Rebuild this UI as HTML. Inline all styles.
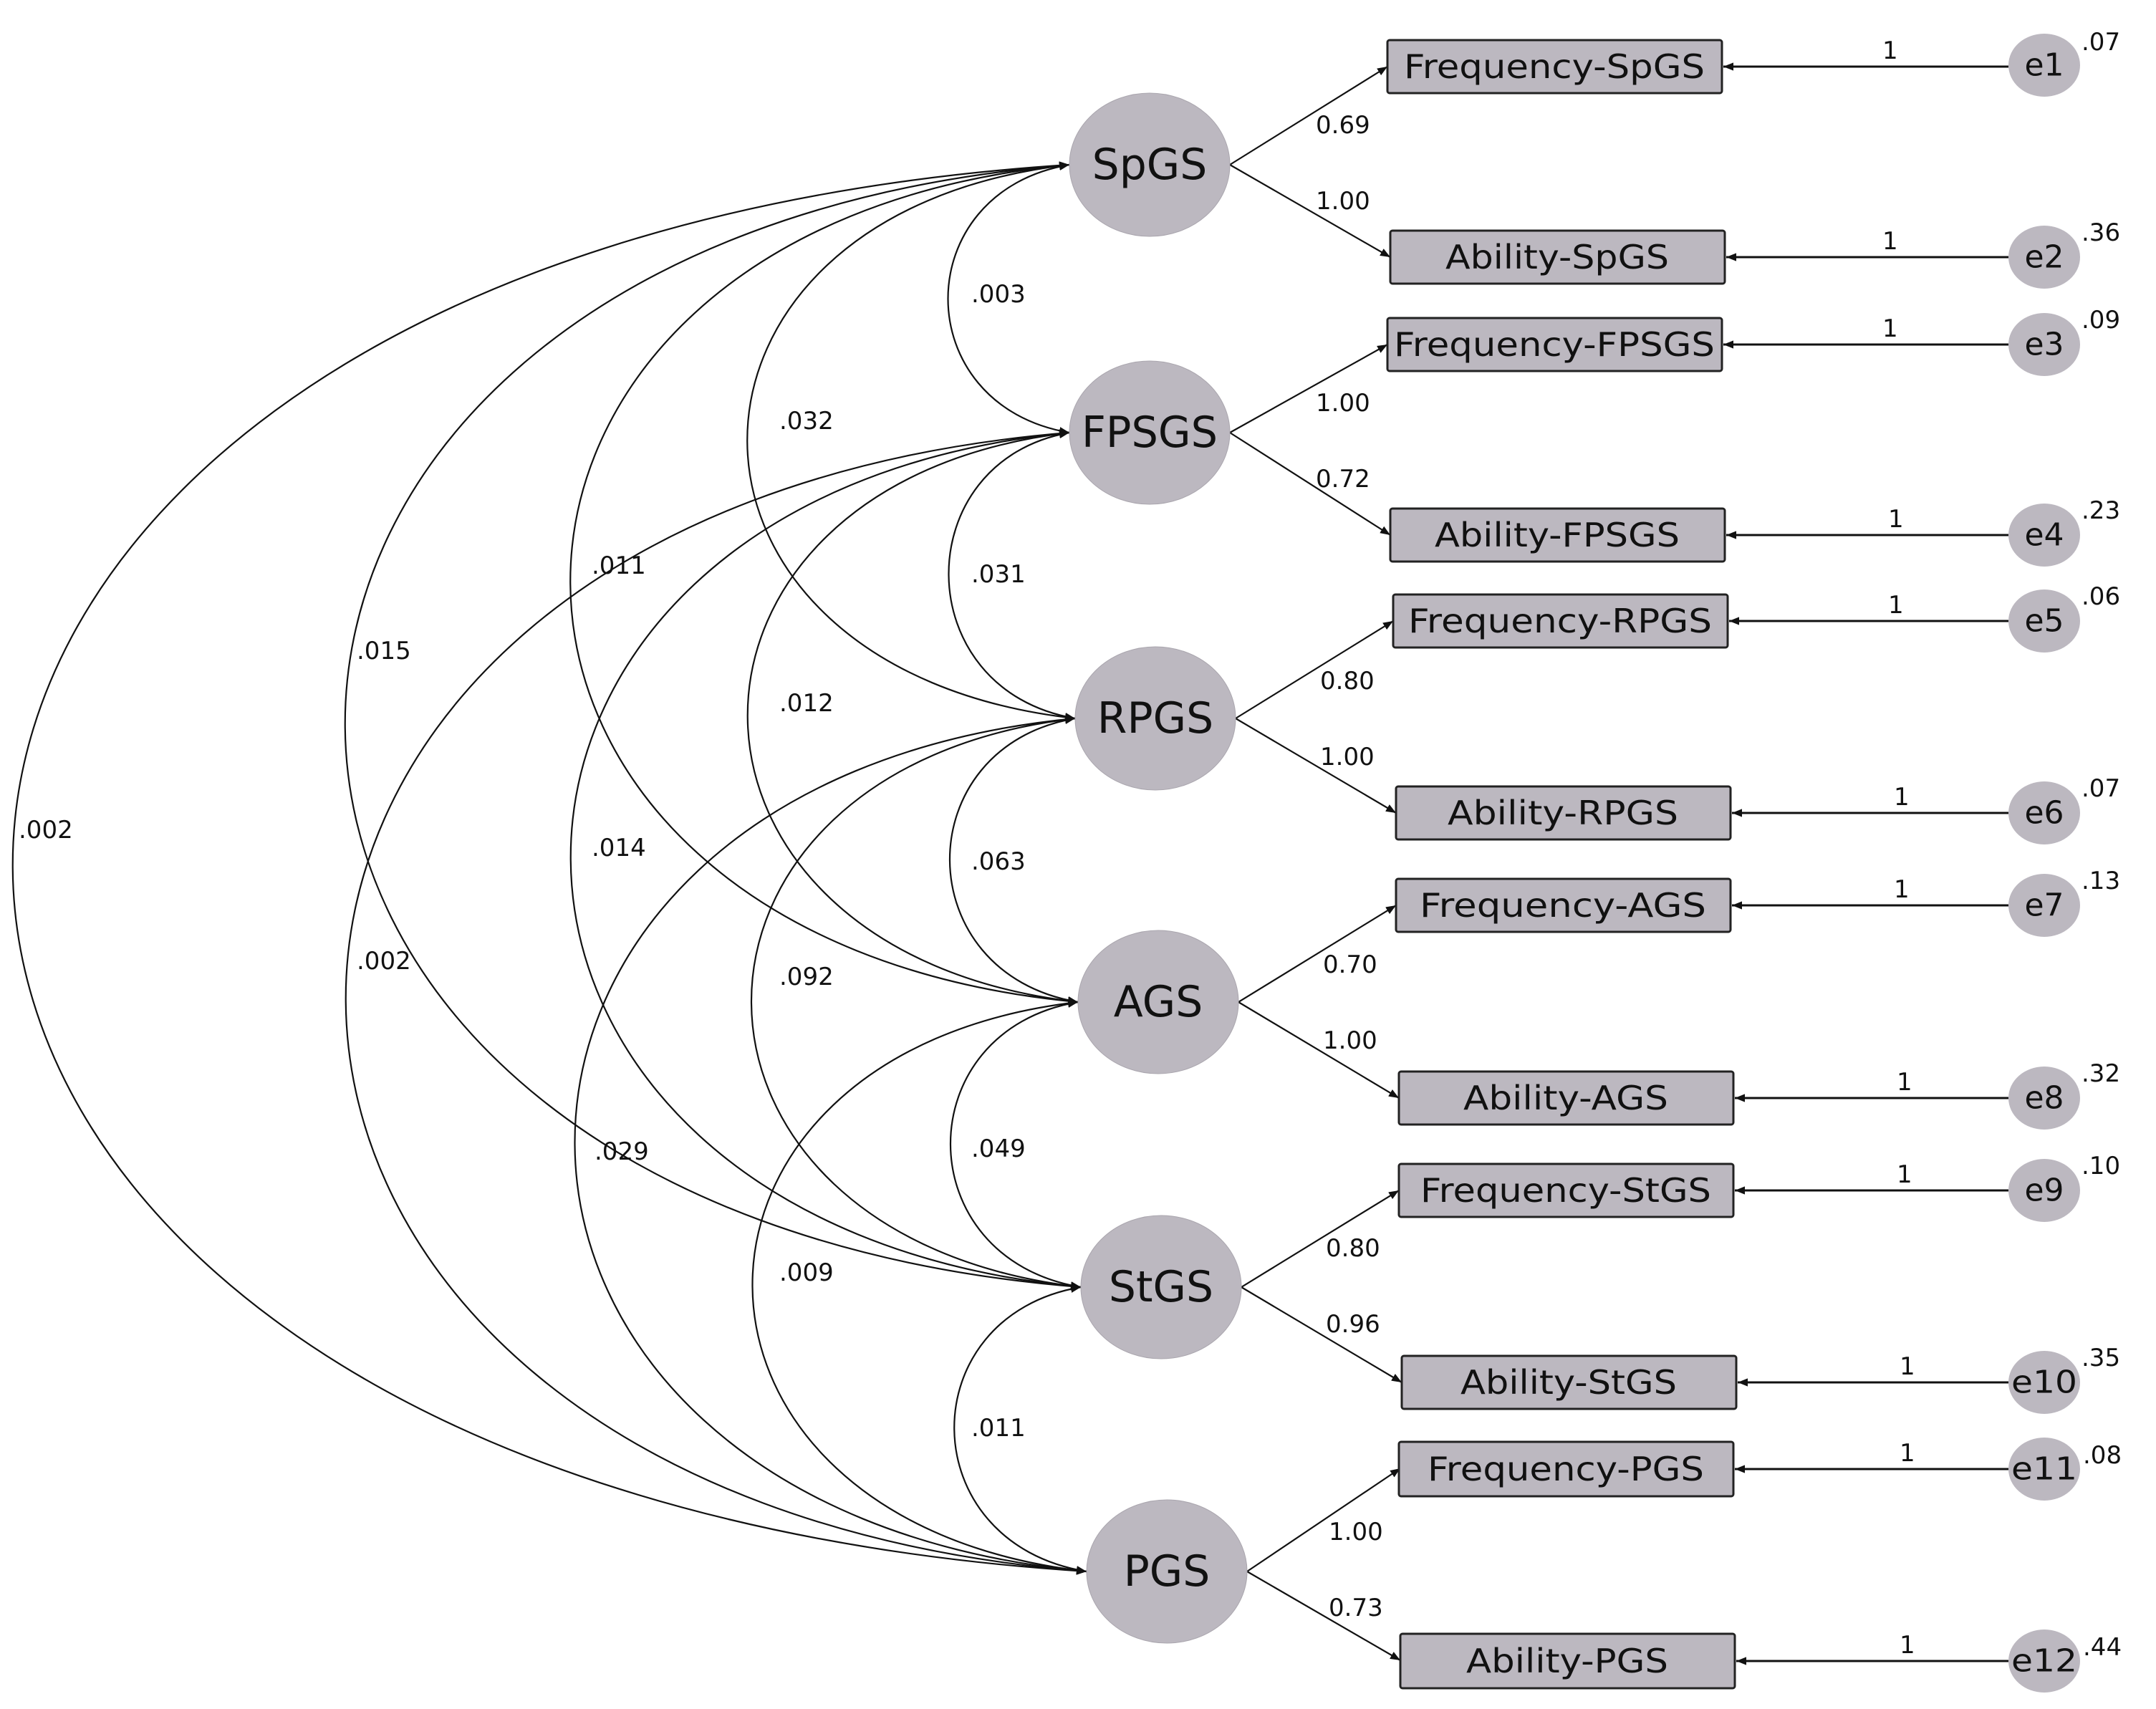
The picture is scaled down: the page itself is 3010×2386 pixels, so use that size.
<!DOCTYPE html>
<html><head><meta charset="utf-8"><style>
html,body{margin:0;padding:0;background:#fff;}
svg{display:block;}
text{font-family:"DejaVu Sans","Liberation Sans",sans-serif;fill:#111;}
.n{font-size:34px;}
.lat{font-size:60px;text-anchor:middle;dominant-baseline:central;}
.bx{font-size:46px;text-anchor:middle;dominant-baseline:central;}
.e{font-size:44px;text-anchor:middle;dominant-baseline:central;}
</style></head><body>
<svg width="3010" height="2386" viewBox="0 0 3010 2386" xmlns="http://www.w3.org/2000/svg">
<defs>
<marker id="a" viewBox="0 0 10 10" refX="10" refY="5" markerWidth="14" markerHeight="14" markerUnits="userSpaceOnUse" orient="auto-start-reverse"><path d="M0,1 L10,5 L0,9 z" fill="#111"/></marker>
</defs>
<g transform="translate(-8,-2)">
<g fill="none" stroke="#111" stroke-width="2.2" marker-start="url(#a)" marker-end="url(#a)">
<path d="M1501,232 C1275,270 1275,568 1501,606"/>
<path d="M1501,606 C1275,646 1275,965 1509,1005"/>
<path d="M1509,1005 C1275,1045 1275,1361 1513,1401"/>
<path d="M1513,1401 C1275,1441 1275,1759 1517,1799"/>
<path d="M1517,1799 C1280,1839 1280,2156 1525,2196"/>
<path d="M1501,232 C900,300 900,937 1509,1005"/>
<path d="M1501,606 C900,676 900,1331 1513,1401"/>
<path d="M1509,1005 C905,1075 905,1729 1517,1799"/>
<path d="M1513,1401 C905,1471 905,2126 1525,2196"/>
<path d="M1501,232 C570,320 570,1313 1513,1401"/>
<path d="M1501,606 C570,696 570,1709 1517,1799"/>
<path d="M1509,1005 C575,1095 575,2106 1525,2196"/>
<path d="M1501,232 C150,340 150,1691 1517,1799"/>
<path d="M1501,606 C150,716 150,2086 1525,2196"/>
<path d="M1501,232 C-470,360 -470,2068 1525,2196"/>
</g>
<g class="n">
<text x="1364" y="424">.003</text>
<text x="1364" y="815">.031</text>
<text x="1364" y="1216">.063</text>
<text x="1364" y="1617">.049</text>
<text x="1364" y="2007">.011</text>
<text x="1096" y="601">.032</text>
<text x="1096" y="995">.012</text>
<text x="1096" y="1377">.092</text>
<text x="1096" y="1790">.009</text>
<text x="834" y="803">.011</text>
<text x="834" y="1197">.014</text>
<text x="838" y="1621">.029</text>
<text x="506" y="922">.015</text>
<text x="506" y="1355">.002</text>
<text x="34" y="1172">.002</text>
</g>
<g fill="none" stroke="#111" stroke-width="2.2" marker-end="url(#a)">
<path d="M1725,232 L1945,95"/><path d="M1725,232 L1949,361"/>
<path d="M1725,606 L1945,483"/><path d="M1725,606 L1949,749"/>
<path d="M1733,1005 L1953,869"/><path d="M1733,1005 L1957,1137"/>
<path d="M1737,1401 L1957,1266"/><path d="M1737,1401 L1961,1535"/>
<path d="M1741,1799 L1961,1664"/><path d="M1741,1799 L1965,1932"/>
<path d="M1749,2196 L1963,2052"/><path d="M1749,2196 L1963,2320"/>
</g>
<g class="n">
<text x="1845" y="188">0.69</text><text x="1845" y="294">1.00</text>
<text x="1845" y="576">1.00</text><text x="1845" y="682">0.72</text>
<text x="1851" y="964">0.80</text><text x="1851" y="1070">1.00</text>
<text x="1855" y="1360">0.70</text><text x="1855" y="1466">1.00</text>
<text x="1859" y="1756">0.80</text><text x="1859" y="1862">0.96</text>
<text x="1863" y="2152">1.00</text><text x="1863" y="2258">0.73</text>
</g>
<g fill="#bcb8c0" stroke="#aaa6ae" stroke-width="1">
<ellipse cx="1613" cy="232" rx="112" ry="100"/>
<ellipse cx="1613" cy="606" rx="112" ry="100"/>
<ellipse cx="1621" cy="1005" rx="112" ry="100"/>
<ellipse cx="1625" cy="1401" rx="112" ry="100"/>
<ellipse cx="1629" cy="1799" rx="112" ry="100"/>
<ellipse cx="1637" cy="2196" rx="112" ry="100"/>
</g>
<text class="lat" x="1613" y="232">SpGS</text>
<text class="lat" x="1613" y="606" textLength="190" lengthAdjust="spacingAndGlyphs">FPSGS</text>
<text class="lat" x="1621" y="1005">RPGS</text>
<text class="lat" x="1625" y="1401">AGS</text>
<text class="lat" x="1629" y="1799">StGS</text>
<text class="lat" x="1637" y="2196">PGS</text>
<g fill="#bcb8c0" stroke="#222" stroke-width="3">
<rect x="1945" y="58" width="467" height="74" rx="3"/>
<rect x="1949" y="324" width="467" height="74" rx="3"/>
<rect x="1945" y="446" width="467" height="74" rx="3"/>
<rect x="1949" y="712" width="467" height="74" rx="3"/>
<rect x="1953" y="832" width="467" height="74" rx="3"/>
<rect x="1957" y="1100" width="467" height="74" rx="3"/>
<rect x="1957" y="1229" width="467" height="74" rx="3"/>
<rect x="1961" y="1498" width="467" height="74" rx="3"/>
<rect x="1961" y="1627" width="467" height="74" rx="3"/>
<rect x="1965" y="1895" width="467" height="74" rx="3"/>
<rect x="1961" y="2015" width="467" height="76" rx="3"/>
<rect x="1963" y="2283" width="467" height="76" rx="3"/>
</g>
<g class="bx">
<text x="2178" y="95" textLength="420" lengthAdjust="spacingAndGlyphs">Frequency-SpGS</text>
<text x="2182" y="361" textLength="312" lengthAdjust="spacingAndGlyphs">Ability-SpGS</text>
<text x="2178" y="483" textLength="448" lengthAdjust="spacingAndGlyphs">Frequency-FPSGS</text>
<text x="2182" y="749" textLength="342" lengthAdjust="spacingAndGlyphs">Ability-FPSGS</text>
<text x="2186" y="869" textLength="424" lengthAdjust="spacingAndGlyphs">Frequency-RPGS</text>
<text x="2190" y="1137" textLength="322" lengthAdjust="spacingAndGlyphs">Ability-RPGS</text>
<text x="2190" y="1266" textLength="400" lengthAdjust="spacingAndGlyphs">Frequency-AGS</text>
<text x="2194" y="1535" textLength="286" lengthAdjust="spacingAndGlyphs">Ability-AGS</text>
<text x="2194" y="1664" textLength="406" lengthAdjust="spacingAndGlyphs">Frequency-StGS</text>
<text x="2198" y="1932" textLength="302" lengthAdjust="spacingAndGlyphs">Ability-StGS</text>
<text x="2194" y="2053" textLength="386" lengthAdjust="spacingAndGlyphs">Frequency-PGS</text>
<text x="2196" y="2321" textLength="282" lengthAdjust="spacingAndGlyphs">Ability-PGS</text>
</g>
<g fill="none" stroke="#111" stroke-width="3" marker-end="url(#a)">
<path d="M2812,95 L2414,95"/><path d="M2812,361 L2418,361"/>
<path d="M2812,483 L2414,483"/><path d="M2812,749 L2418,749"/>
<path d="M2812,869 L2422,869"/><path d="M2812,1137 L2426,1137"/>
<path d="M2812,1266 L2426,1266"/><path d="M2812,1535 L2430,1535"/>
<path d="M2812,1664 L2430,1664"/><path d="M2812,1932 L2434,1932"/>
<path d="M2812,2053 L2430,2053"/><path d="M2812,2321 L2432,2321"/>
</g>
<g fill="#bcb8c0">
<ellipse cx="2862" cy="93" rx="50" ry="44"/><ellipse cx="2862" cy="361" rx="50" ry="44"/>
<ellipse cx="2862" cy="483" rx="50" ry="44"/><ellipse cx="2862" cy="749" rx="50" ry="44"/>
<ellipse cx="2862" cy="869" rx="50" ry="44"/><ellipse cx="2862" cy="1137" rx="50" ry="44"/>
<ellipse cx="2862" cy="1266" rx="50" ry="44"/><ellipse cx="2862" cy="1535" rx="50" ry="44"/>
<ellipse cx="2862" cy="1664" rx="50" ry="44"/><ellipse cx="2862" cy="1932" rx="50" ry="44"/>
<ellipse cx="2862" cy="2053" rx="50" ry="44"/><ellipse cx="2862" cy="2321" rx="50" ry="44"/>
</g>
<g class="e">
<text x="2862" y="93">e1</text><text x="2862" y="361">e2</text>
<text x="2862" y="483">e3</text><text x="2862" y="749">e4</text>
<text x="2862" y="869">e5</text><text x="2862" y="1137">e6</text>
<text x="2862" y="1266">e7</text><text x="2862" y="1535">e8</text>
<text x="2862" y="1664">e9</text><text x="2862" y="1932" textLength="92" lengthAdjust="spacingAndGlyphs">e10</text>
<text x="2862" y="2053" textLength="92" lengthAdjust="spacingAndGlyphs">e11</text><text x="2862" y="2321" textLength="92" lengthAdjust="spacingAndGlyphs">e12</text>
</g>
<g class="n">
<text x="2636" y="84">1</text><text x="2636" y="350">1</text>
<text x="2636" y="472">1</text><text x="2644" y="738">1</text>
<text x="2644" y="858">1</text><text x="2652" y="1126">1</text>
<text x="2652" y="1255">1</text><text x="2656" y="1524">1</text>
<text x="2656" y="1653">1</text><text x="2660" y="1921">1</text>
<text x="2660" y="2042">1</text><text x="2660" y="2310">1</text>
</g>
<g class="n">
<text x="2914" y="72">.07</text><text x="2914" y="338">.36</text>
<text x="2914" y="460">.09</text><text x="2914" y="726">.23</text>
<text x="2914" y="846">.06</text><text x="2914" y="1114">.07</text>
<text x="2914" y="1243">.13</text><text x="2914" y="1512">.32</text>
<text x="2914" y="1641">.10</text><text x="2914" y="1909">.35</text>
<text x="2916" y="2045">.08</text><text x="2916" y="2313">.44</text>
</g>
</g>
</svg>
</body></html>
